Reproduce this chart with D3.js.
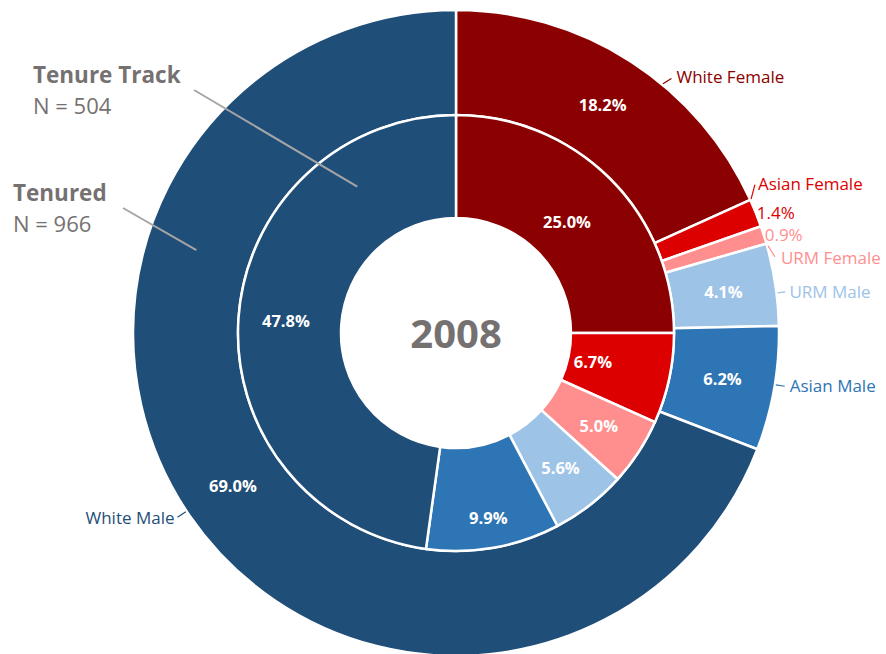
<!DOCTYPE html>
<html>
<head>
<meta charset="utf-8">
<script src="https://cdn.jsdelivr.net/npm/d3@7"></script>
<style>
  body { margin: 0; background: #fff; }
  svg { font-family: "Open Sans", "Noto Sans", sans-serif; }
</style>
</head>
<body>
<div id="chart"></div>
<script>
// data
const categories = ["White Female", "Asian Female", "URM Female", "URM Male", "Asian Male", "White Male"];
const tenuredPct = [18.2, 1.4, 0.9, 4.1, 6.2, 69.0];      // outer ring, N = 966
const tenureTrackPct = [25.0, 6.7, 5.0, 5.6, 9.9, 47.8];  // inner ring, N = 504
const ringNames = ["Tenure Track", "Tenured"];
const ringCounts = [504, 966];
const yearLabel = "2008";

const colors = ["#8b0000", "#dc0000", "#ff8f8f", "#9dc3e6", "#2e75b6", "#1f4e79"];

const width = 886;
const height = 654;
const cx = 456;
const cy = 333;
const holeR = 115;
const midR = 218;
const outerR = 323;

const svg = d3.select("#chart")
  .append("svg")
  .attr("width", width)
  .attr("height", height);

const g = svg.append("g").attr("transform", `translate(${cx},${cy})`);

const color = d3.scaleOrdinal().domain(categories).range(colors);
const pie = d3.pie().sort(null).value((d) => d.value);
const rad = (deg) => (deg * Math.PI) / 180;

const innerArc = d3.arc().innerRadius(holeR).outerRadius(midR);
const outerArc = d3.arc().innerRadius(midR).outerRadius(outerR);

const innerData = pie(categories.map((c, i) => ({ cat: c, value: tenureTrackPct[i] })));
const outerData = pie(categories.map((c, i) => ({ cat: c, value: tenuredPct[i] })));

// rings
g.selectAll("path.outer")
  .data(outerData)
  .enter()
  .append("path")
  .attr("class", "outer")
  .attr("d", outerArc)
  .attr("fill", (d) => color(d.data.cat))
  .attr("stroke", "#fff")
  .attr("stroke-width", 2.5);

g.selectAll("path.inner")
  .data(innerData)
  .enter()
  .append("path")
  .attr("class", "inner")
  .attr("d", innerArc)
  .attr("fill", (d) => color(d.data.cat))
  .attr("stroke", "#fff")
  .attr("stroke-width", 2.5);

// percent labels inside slices
const fmt = (v) => v.toFixed(1) + "%";
const insideOuter = outerData.filter((d) => d.data.value >= 3);
g.selectAll("text.outerPct")
  .data(insideOuter)
  .enter()
  .append("text")
  .attr("transform", (d) => `translate(${outerArc.centroid(d)})`)
  .attr("text-anchor", "middle")
  .attr("dy", "0.35em")
  .attr("fill", "#fff")
  .style("font-weight", "bold")
  .style("font-size", "16.5px")
  .text((d) => fmt(d.data.value));

// inner label radius tweaks (where the original nudged them)
const innerLabelR = { "White Female": 157, "Asian Female": 140, "Asian Male": 188 };
g.selectAll("text.innerPct")
  .data(innerData)
  .enter()
  .append("text")
  .attr("transform", (d) => {
    const a = (d.startAngle + d.endAngle) / 2;
    const r = innerLabelR[d.data.cat] || (holeR + midR) / 2 + 4;
    return `translate(${d3.pointRadial(a, r)})`;
  })
  .attr("text-anchor", "middle")
  .attr("dy", "0.35em")
  .attr("fill", "#fff")
  .style("font-weight", "bold")
  .style("font-size", "16.5px")
  .text((d) => fmt(d.data.value));

// small outer slices: value outside
outerData
  .filter((d) => d.data.value < 3)
  .forEach((d) => {
    const a = (d.startAngle + d.endAngle) / 2;
    const p = d3.pointRadial(a, outerR + 1);
    g.append("text")
      .attr("x", p[0])
      .attr("y", p[1])
      .attr("dy", "0.35em")
      .attr("fill", color(d.data.cat))
      .style("font-size", "17px")
      .text(fmt(d.data.value));
  });

// callouts: angle on the rim (deg, null = mid angle), leader direction (deg, null = radial)
const callouts = {
  "White Female": { angle: 39.7, dir: 58, len: 10, dx: 5, dy: -1 },
  "Asian Female": { angle: 65.6, dir: 15, len: 15, dx: 3, dy: -1 },
  "URM Female": { angle: 74.4, dir: 148, len: 13, dx: 6, dy: 1 },
  "URM Male": { angle: 82.9, dir: null, len: 8, dx: 4, dy: 0 },
  "Asian Male": { angle: 99.2, dir: null, len: 9, dx: 5, dy: 0 },
  "White Male": { angle: 236.5, dir: null, len: 10, dx: -3, dy: 1 },
};

outerData.forEach((d) => {
  const c = callouts[d.data.cat];
  const a = c.angle == null ? (d.startAngle + d.endAngle) / 2 : rad(c.angle);
  const p0 = d3.pointRadial(a, outerR + 1);
  const dirA = c.dir == null ? a : rad(c.dir);
  const p1 = [p0[0] + Math.sin(dirA) * c.len, p0[1] - Math.cos(dirA) * c.len];
  const col = color(d.data.cat);
  g.append("line")
    .attr("x1", p0[0]).attr("y1", p0[1])
    .attr("x2", p1[0]).attr("y2", p1[1])
    .attr("stroke", col)
    .attr("stroke-width", 1.2);
  const left = p1[0] < 0;
  g.append("text")
    .attr("x", p1[0] + c.dx)
    .attr("y", p1[1] + c.dy)
    .attr("dy", "0.35em")
    .attr("text-anchor", left ? "end" : "start")
    .attr("fill", col)
    .style("font-size", "17px")
    .text(d.data.cat);
});

// ring annotations
const ringNotes = [
  { x: 33, y: 83, angle: 326, r: (holeR + midR) / 2 + 10, from: [194, 90] },
  { x: 13, y: 201, angle: 287.7, r: (midR + outerR) / 2 + 2, from: [123, 208] },
];
ringNotes.forEach((n, i) => {
  const p = d3.pointRadial(rad(n.angle), n.r);
  svg.append("line")
    .attr("x1", n.from[0]).attr("y1", n.from[1])
    .attr("x2", cx + p[0]).attr("y2", cy + p[1])
    .attr("stroke", "#a6a6a6")
    .attr("stroke-width", 2);
  svg.append("text")
    .attr("x", n.x)
    .attr("y", n.y)
    .attr("fill", "#767171")
    .style("font-weight", "bold")
    .style("font-size", "22.5px")
    .text(ringNames[i]);
  svg.append("text")
    .attr("x", n.x)
    .attr("y", n.y + 31)
    .attr("fill", "#767171")
    .style("font-size", "22px")
    .text(`N = ${ringCounts[i]}`);
});

// year in the centre
g.append("text")
  .attr("text-anchor", "middle")
  .attr("y", 15)
  .attr("fill", "#767171")
  .style("font-weight", "bold")
  .style("font-size", "40px")
  .text(yearLabel);
</script>
</body>
</html>
